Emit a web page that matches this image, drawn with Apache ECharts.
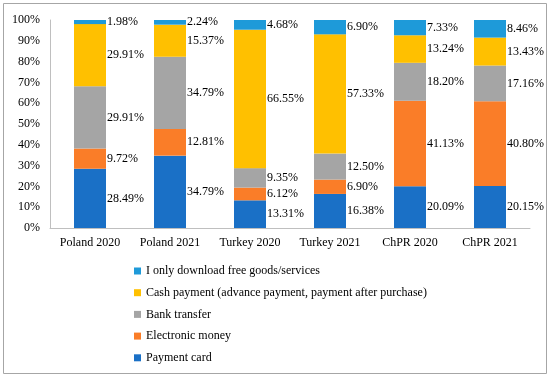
<!DOCTYPE html>
<html><head><meta charset="utf-8">
<script src="https://cdn.jsdelivr.net/npm/echarts@6/dist/echarts.min.js"></script>
<style>html,body{margin:0;padding:0;background:#fff}#c{width:550px;height:377px}</style>
</head><body><div id="c"></div>
<script>
const categories = ['Poland 2020','Poland 2021','Turkey 2020','Turkey 2021','ChPR 2020','ChPR 2021'];
const paymentCard = [28.49, 34.79, 13.31, 16.38, 20.09, 20.15];
const electronicMoney = [9.72, 12.81, 6.12, 6.90, 41.13, 40.80];
const bankTransfer = [29.91, 34.79, 9.35, 12.50, 18.20, 17.16];
const cashPayment = [29.91, 15.37, 66.55, 57.33, 13.24, 13.43];
const freeGoods = [1.98, 2.24, 4.68, 6.90, 7.33, 8.46];
const yTicks = [0,10,20,30,40,50,60,70,80,90,100];

const names = ['Payment card','Electronic money','Bank transfer','Cash payment (advance payment, payment after purchase)','I only download free goods/services'];
const colors = ['#1a70c6','#fa7d28','#a5a5a5','#ffc000','#1e9ad9'];
const datas = [paymentCard, electronicMoney, bankTransfer, cashPayment, freeGoods];
const font = '"Liberation Serif", "Times New Roman", serif';

const series = names.map((n,i)=>({
  name:n, type:'bar', stack:'s', barWidth:32,
  itemStyle:{color:colors[i]},
  data: datas[i],
  label:{show:true, position:'right', distance:1, color:'#000', fontFamily:font, fontSize:12,
    formatter: p => p.value.toFixed(2)+'%'}
}));

const chart = echarts.init(document.getElementById('c'));
chart.setOption({
  animation:false,
  grid:{left:50,right:20,top:20,bottom:149},
  xAxis:{type:'category', data:categories,
    axisLine:{lineStyle:{color:'#bfbfbf'}}, axisTick:{show:false},
    axisLabel:{color:'#000', fontFamily:font, fontSize:12, margin:9}},
  yAxis:{type:'value', min:0, max:100, interval:10,
    axisLine:{show:true, lineStyle:{color:'#bfbfbf'}}, axisTick:{show:false}, splitLine:{show:false},
    axisLabel:{color:'#000', fontFamily:font, fontSize:12, margin:10, formatter: v => v+'%'}},
  legend:{orient:'vertical', left:129, top:260, itemWidth:7, itemHeight:7, itemGap:9.7, icon:'rect',
    data: names.slice().reverse(),
    textStyle:{color:'#000', fontFamily:font, fontSize:12}},
  graphic:[{type:'rect', shape:{x:3.5,y:3.5,width:543,height:370}, style:{fill:null, stroke:'#a6a6a6', lineWidth:1}}],
  series: series
});
</script></body></html>
